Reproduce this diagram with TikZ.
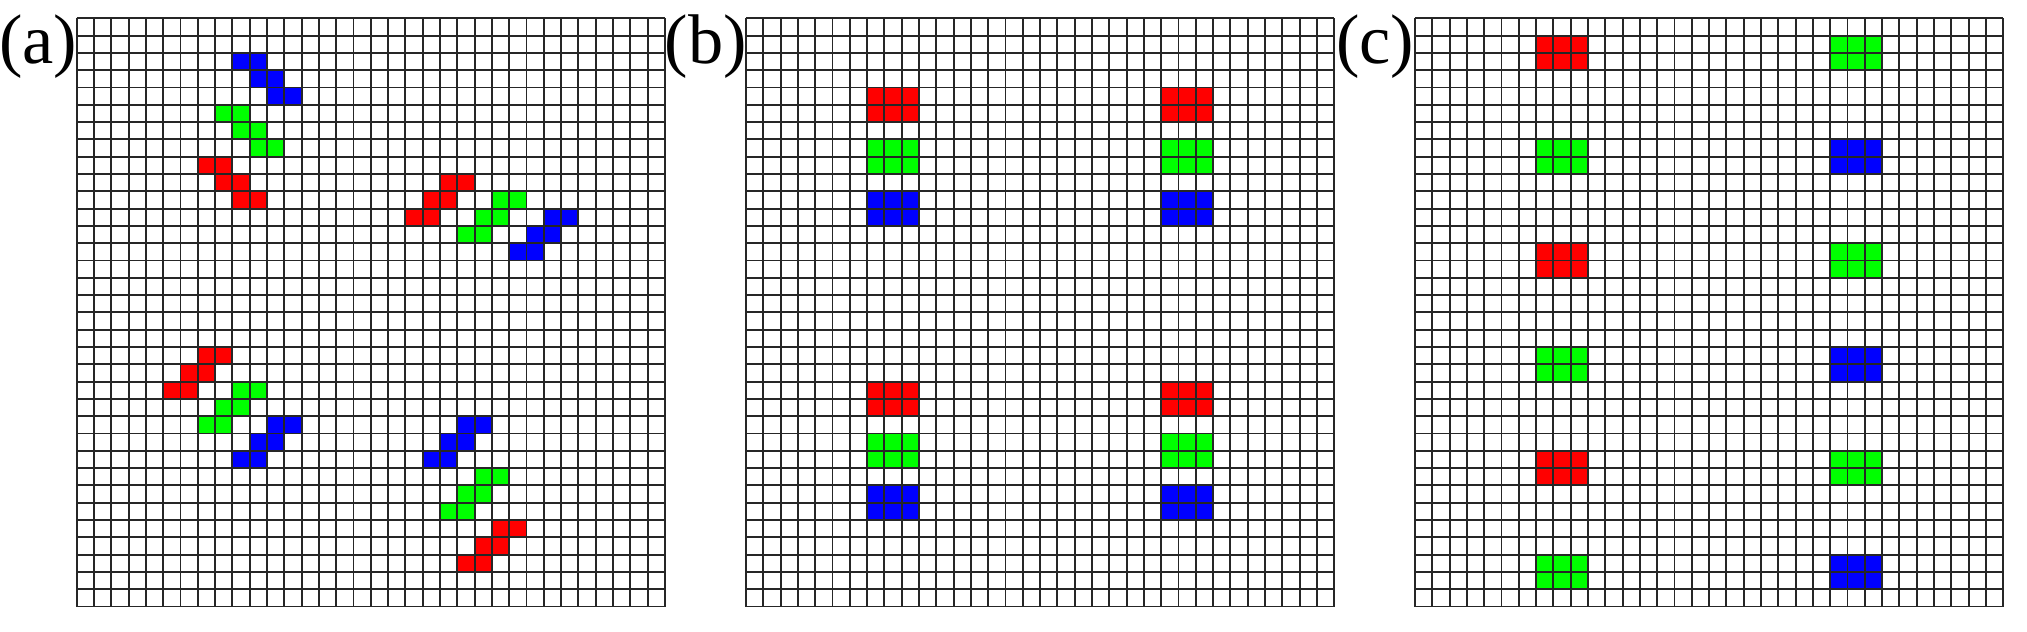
\documentclass[tikz,border=0pt]{standalone}
\usepackage{fontspec}
\setmainfont{Liberation Serif}
\begin{document}
\begin{tikzpicture}[x=1.73mm,y=-1.73mm,
  gridline/.style={draw=black!85,line width=0.55pt},
  lbl/.style={inner sep=0pt,font=\fontsize{20}{21}\selectfont},
  R/.style={fill={rgb,255:red,255;green,0;blue,0}},
  G/.style={fill={rgb,255:red,0;green,255;blue,0}},
  B/.style={fill={rgb,255:red,0;green,0;blue,255}}]
\useasboundingbox (0,0) rectangle (117.17,36.474);
\def\py{1.0578}
% panel x offsets (in cell units)
\def\pa{4.4335}
\def\pb{43.121}
\def\pc{81.792}
% staircase: #1 style, #2 panel x, #3 col, #4 row, #5 direction
\newcommand{\stair}[5]{%
  \foreach \k in {0,1,2}{\path[#1] ({#2+#3+#5*\k},{\py+#4+\k}) rectangle +(2,1);}}
% block 3x2: #1 style, #2 panel x, #3 col, #4 row
\newcommand{\blk}[4]{\path[#1] ({#2+#3},{\py+#4}) rectangle +(3,2);}
% ---- panel (a)
\stair{B}{\pa}{9}{2}{1}
\stair{G}{\pa}{8}{5}{1}
\stair{R}{\pa}{7}{8}{1}
\stair{R}{\pa}{21}{9}{-1}
\stair{G}{\pa}{24}{10}{-1}
\stair{B}{\pa}{27}{11}{-1}
\stair{R}{\pa}{7}{19}{-1}
\stair{G}{\pa}{9}{21}{-1}
\stair{B}{\pa}{11}{23}{-1}
\stair{B}{\pa}{22}{23}{-1}
\stair{G}{\pa}{23}{26}{-1}
\stair{R}{\pa}{24}{29}{-1}
% ---- panel (b)
\foreach \c in {7,24}{
  \blk{R}{\pb}{\c}{4}\blk{G}{\pb}{\c}{7}\blk{B}{\pb}{\c}{10}
  \blk{R}{\pb}{\c}{21}\blk{G}{\pb}{\c}{24}\blk{B}{\pb}{\c}{27}}
% ---- panel (c)
\foreach \r in {1,13,25}{\blk{R}{\pc}{7}{\r}\blk{G}{\pc}{24}{\r}}
\foreach \r in {7,19,31}{\blk{G}{\pc}{7}{\r}\blk{B}{\pc}{24}{\r}}
% ---- grids
\foreach \p in {\pa,\pb,\pc}{
  \foreach \i in {0,...,34}{
    \draw[gridline] ({\p+\i},\py) -- ({\p+\i},{\py+34});
    \draw[gridline] (\p,{\py+\i}) -- ({\p+34},{\py+\i});}}
% ---- labels
\node[lbl] (la) at (2.2,2.7) {(a)};
\node[lbl] (lb) at (40.8,2.7) {(b)};
\node[lbl] (lc) at (79.5,2.7) {(c)};
\end{tikzpicture}
\end{document}
